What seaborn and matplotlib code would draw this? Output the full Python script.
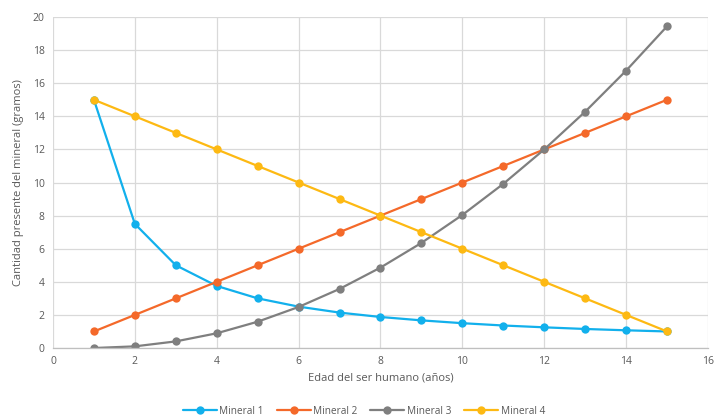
import numpy as np
import pandas as pd
import seaborn as sns
import matplotlib
matplotlib.use("Agg")
import matplotlib.pyplot as plt

edad = list(range(1, 16))
mineral_1 = [15, 7.5, 5, 3.75, 3, 2.5, 2.14, 1.875, 1.67, 1.5, 1.36, 1.25, 1.15, 1.07, 1]
mineral_2 = [1, 2, 3, 4, 5, 6, 7, 8, 9, 10, 11, 12, 13, 14, 15]
mineral_3 = [0, 0.1, 0.4, 0.89, 1.59, 2.48, 3.57, 4.86, 6.35, 8.04, 9.92, 12, 14.28, 16.76, 19.44]
mineral_4 = [15, 14, 13, 12, 11, 10, 9, 8, 7, 6, 5, 4, 3, 2, 1]

series_names = ["Mineral 1", "Mineral 2", "Mineral 3", "Mineral 4"]
series_values = [mineral_1, mineral_2, mineral_3, mineral_4]
colors = ["#12B0EC", "#F4692A", "#7F7F7F", "#FDB913"]

df = pd.DataFrame({
    "edad": edad * len(series_names),
    "cantidad": [v for vals in series_values for v in vals],
    "mineral": [n for n in series_names for _ in edad],
})

sns.set_theme(style="white")
plt.rcParams["font.family"] = ["Open Sans", "DejaVu Sans"]

fig = plt.figure(figsize=(7.14, 4.2), dpi=100)
ax = fig.add_axes([0.0742, 0.1714, 0.9174, 0.7881])

sns.lineplot(data=df, x="edad", y="cantidad", hue="mineral",
             palette=colors, marker="o", markersize=6, markeredgewidth=0,
             linewidth=1.6, ax=ax, legend=True)

ax.set_xlim(0, 16)
ax.set_ylim(0, 20)
ax.set_xticks(range(0, 17, 2))
ax.set_yticks(range(0, 21, 2))
ax.grid(True, color="#D9D9D9", linewidth=0.9)
ax.set_axisbelow(True)
for side in ["top", "right", "left"]:
    ax.spines[side].set_visible(False)
ax.spines["bottom"].set_color("#BFBFBF")
ax.spines["bottom"].set_linewidth(0.9)
ax.tick_params(axis="both", colors="#595959", labelsize=7.5, length=0, pad=6)

ax.set_xlabel("Edad del ser humano (años)", fontsize=8, color="#595959", labelpad=4)
ax.set_ylabel("Cantidad presente del mineral (gramos)", fontsize=8, color="#595959", labelpad=6)

handles, labels = ax.get_legend_handles_labels()
leg = ax.legend(handles, labels, loc="center", ncol=4, frameon=False, fontsize=7.2,
                labelcolor="#595959", handlelength=3.4, columnspacing=1.3,
                handletextpad=0.25,
                bbox_to_anchor=(364 / 714, 9 / 420), bbox_transform=fig.transFigure)

fig.savefig("out.png", dpi=100)
